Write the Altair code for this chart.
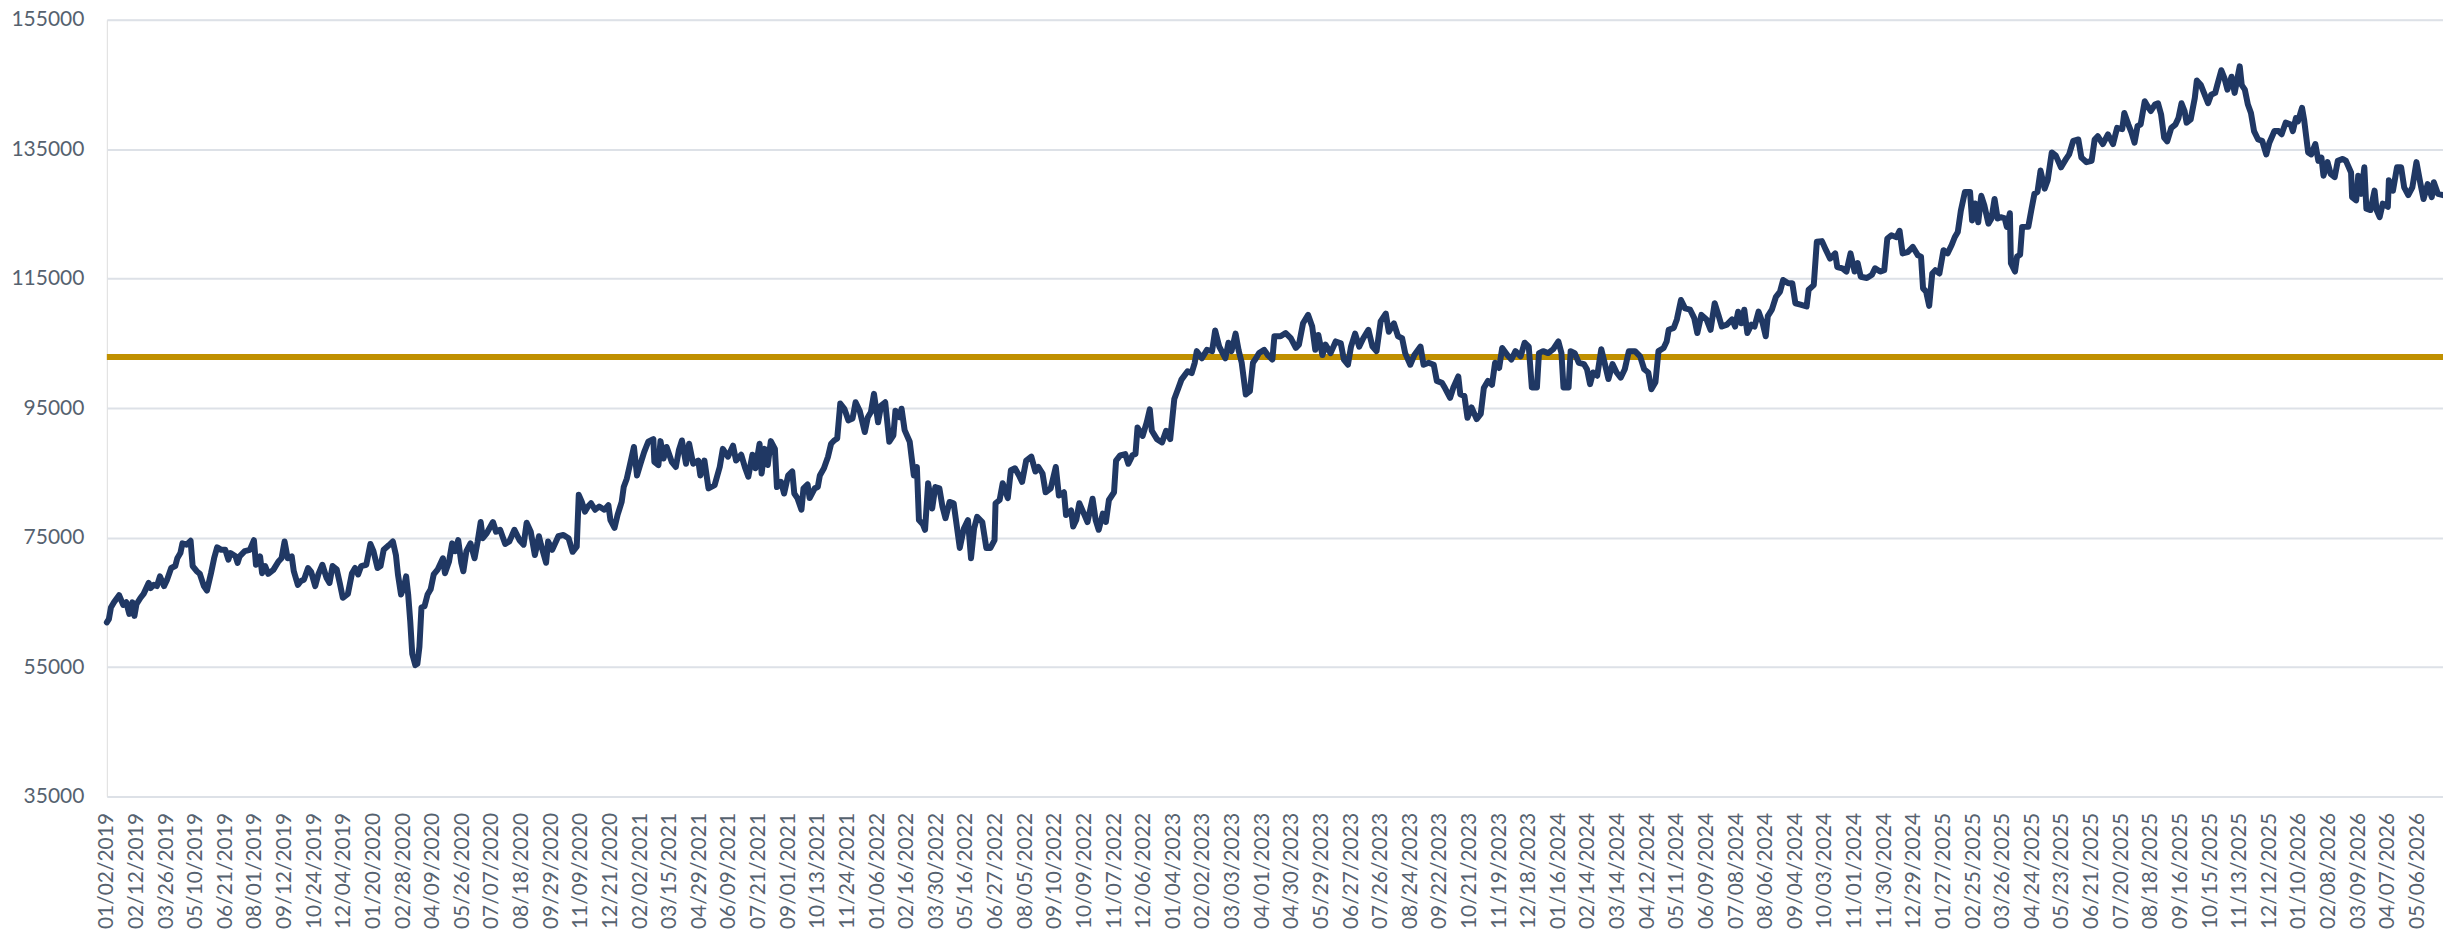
import altair as alt
import pandas as pd

# Category-axis tick labels (every 29th observation)
tick_labels = [
    "01/02/2019", "02/12/2019", "03/26/2019", "05/10/2019", "06/21/2019", "08/01/2019",
    "09/12/2019", "10/24/2019", "12/04/2019", "01/20/2020", "02/28/2020", "04/09/2020",
    "05/26/2020", "07/07/2020", "08/18/2020", "09/29/2020", "11/09/2020", "12/21/2020",
    "02/02/2021", "03/15/2021", "04/29/2021", "06/09/2021", "07/21/2021", "09/01/2021",
    "10/13/2021", "11/24/2021", "01/06/2022", "02/16/2022", "03/30/2022", "05/16/2022",
    "06/27/2022", "08/05/2022", "09/10/2022", "10/09/2022", "11/07/2022", "12/06/2022",
    "01/04/2023", "02/02/2023", "03/03/2023", "04/01/2023", "04/30/2023", "05/29/2023",
    "06/27/2023", "07/26/2023", "08/24/2023", "09/22/2023", "10/21/2023", "11/19/2023",
    "12/18/2023", "01/16/2024", "02/14/2024", "03/14/2024", "04/12/2024", "05/11/2024",
    "06/09/2024", "07/08/2024", "08/06/2024", "09/04/2024", "10/03/2024", "11/01/2024",
    "11/30/2024", "12/29/2024", "01/27/2025", "02/25/2025", "03/26/2025", "04/24/2025",
    "05/23/2025", "06/21/2025", "07/20/2025", "08/18/2025", "09/16/2025", "10/15/2025",
    "11/13/2025", "12/12/2025", "01/10/2026", "02/08/2026", "03/09/2026", "04/07/2026",
    "05/06/2026",
]
label_step = 29
last_obs = 2287

obs_2019_2020 = [
    0, 2, 4, 7, 12, 16, 19, 22, 25, 27, 29, 33, 36, 41, 43, 46, 49, 52, 56, 59,
    63, 67, 69, 72, 74, 78, 82, 84, 88, 91, 95, 98, 102, 105, 108, 112, 116, 119, 121, 126,
    128, 130, 135, 140, 144, 146, 150, 152, 155, 158, 163, 168, 171, 174, 177, 181, 183, 187, 190, 193,
    197, 200, 204, 207, 211, 215, 218, 221, 225, 228, 231, 236, 240, 243, 246, 249, 254, 258, 261, 265,
    268, 271, 276, 280, 283, 285, 288, 291, 293, 295, 297, 299, 302, 304, 306, 308, 311, 314, 317, 320,
    324, 329, 331, 335, 338, 341, 344, 347, 349, 352, 356, 360, 363, 366, 368, 372, 378, 381, 385, 390,
    394, 399, 404, 408, 411, 415, 419, 423, 425, 430, 432, 436, 442, 447, 452,
]
val_2019_2020 = [
    61900, 62400, 64200, 65000, 66100, 64600, 65000, 63200, 65000, 62900, 64700, 65700, 66300, 68000, 67200, 67700, 67500, 69000, 67500, 68500,
    70300, 70600, 71800, 72600, 74100, 73900, 74500, 70600, 69800, 69400, 67500, 66800, 69500, 71800, 73500, 73100, 73100, 71600, 72600, 72100,
    71100, 72100, 72900, 73100, 74600, 70800, 72100, 69500, 70600, 69400, 70000, 71300, 71800, 74400, 71800, 72100, 69800, 67700, 68300, 68500,
    70300, 69700, 67500, 69300, 70800, 68800, 68000, 70600, 70100, 68000, 65700, 66300, 69500, 70300, 69300, 70600, 70800, 74000, 72900, 70300,
    70600, 73100, 73800, 74400, 72300, 69300, 66200, 67500, 69000, 66200, 62100, 57000, 55300, 55500, 58100, 64200, 64400, 66200, 67000, 69300,
    70100, 71800, 69500, 71300, 74100, 72900, 74600, 71100, 69800, 72900, 74100, 71800, 74400, 77400, 74900, 75700, 77400, 75900, 76200, 74000,
    74400, 76200, 74600, 73900, 77300, 75900, 72300, 75200, 73900, 71100, 74400, 73100, 75200, 75400, 74900,
]

obs_2020_2022 = [
    456, 460, 462, 465, 468, 471, 474, 478, 482, 487, 491, 493, 497, 500, 504, 506, 509, 512, 516, 519,
    522, 526, 530, 535, 536, 540, 542, 545, 548, 553, 557, 560, 563, 567, 570, 574, 579, 581, 585, 589,
    595, 600, 603, 608, 613, 616, 621, 625, 628, 632, 635, 639, 641, 644, 647, 650, 654, 656, 660, 663,
    667, 671, 673, 676, 680, 682, 686, 688, 693, 696, 698, 702, 706, 709, 712, 715, 718, 722, 726, 730,
    733, 737, 742, 745, 748, 751, 755, 758, 762, 766, 770, 772, 776, 778, 781, 786, 788, 790, 793, 795,
    799, 801, 804, 808, 811, 815, 818, 821, 825, 829, 831, 835, 839, 843, 846, 849, 852, 857, 861, 865,
    869, 870, 874, 877, 882, 885, 889, 893, 896, 900, 905, 909, 912,
]
val_2020_2022 = [
    72800, 73600, 81600, 80500, 79000, 79800, 80300, 79300, 79800, 79300, 80000, 77700, 76500, 78500, 80500, 82800, 84100, 86200, 89000, 84600,
    86200, 88200, 89800, 90200, 86700, 86200, 89900, 87200, 89000, 86700, 85900, 88500, 90000, 86400, 89500, 86400, 86900, 84600, 86900, 82600,
    83100, 85900, 88700, 87500, 89200, 86900, 87800, 85700, 84400, 87800, 85700, 89500, 84900, 88700, 86200, 89900, 88700, 82800, 83600, 81800,
    84600, 85200, 81800, 81100, 79300, 82600, 83200, 81100, 82600, 82800, 84600, 85700, 87500, 89500, 90000, 90300, 95700, 94900, 93100, 93400,
    95900, 94600, 91300, 93600, 94400, 97200, 92800, 95400, 95900, 89800, 90800, 94600, 93600, 94900, 91600, 89800, 87200, 84600, 85900, 77700,
    77000, 76200, 83400, 79500, 82800, 82600, 79800, 78000, 80500, 80300, 78000, 73400, 76400, 77700, 71800, 76400, 78200, 77400, 73400, 73400,
    74600, 80300, 80800, 83400, 81100, 85400, 85700, 84600, 83600, 86900, 87500, 85200, 85900,
]

obs_2022_2024 = [
    916, 919, 924, 929, 932, 937, 939, 944, 946, 949, 952, 957, 960, 965, 968, 971, 975, 978, 981, 986,
    988, 992, 997, 1000, 1004, 1007, 1009, 1014, 1018, 1021, 1023, 1028, 1033, 1037, 1041, 1045, 1049, 1052, 1058, 1062,
    1065, 1067, 1072, 1077, 1082, 1085, 1089, 1095, 1098, 1101, 1105, 1108, 1111, 1115, 1119, 1122, 1125, 1128, 1133, 1137,
    1141, 1143, 1149, 1154, 1159, 1164, 1167, 1171, 1176, 1180, 1183, 1186, 1190, 1193, 1198, 1203, 1208, 1211, 1215, 1218,
    1222, 1226, 1230, 1235, 1239, 1243, 1247, 1252, 1255, 1260, 1264, 1268, 1271, 1276, 1280, 1286, 1289, 1294, 1299, 1302,
    1307, 1310, 1315, 1318, 1323, 1325, 1329, 1332, 1336, 1341, 1345, 1348, 1352, 1356, 1359, 1363, 1366, 1371, 1375, 1379,
    1384, 1388, 1392,
]
val_2022_2024 = [
    84900, 82000, 82600, 85900, 81500, 82000, 78500, 79200, 76700, 77700, 80300, 78500, 77400, 81000, 77700, 76200, 78700, 77400, 80800, 82000,
    86900, 87700, 87900, 86400, 87700, 87900, 92000, 90700, 92800, 94800, 91500, 90200, 89700, 91500, 90200, 96400, 98100, 99400, 100700, 100400,
    102000, 103800, 102700, 104000, 103800, 107000, 104500, 102700, 105100, 103800, 106500, 103900, 102000, 97100, 97600, 102000, 102700, 103500, 104000, 103100,
    102500, 106100, 106100, 106600, 105800, 104300, 104800, 108100, 109400, 107600, 104000, 106300, 103200, 104800, 103500, 105300, 105000, 102500, 101700, 104500,
    106500, 104500, 105800, 107100, 104500, 103800, 108400, 109600, 106800, 108100, 106100, 105800, 103500, 101700, 103200, 104500, 101700, 102000, 101700, 99200,
    98900, 98100, 96600, 98100, 99900, 97100, 96900, 93500, 95100, 93300, 94100, 98100, 99200, 98600, 102000, 101200, 104300, 103200, 102500, 103800,
    103000, 105100, 104500,
]

obs_2024_2025 = [
    1395, 1400, 1402, 1406, 1411, 1416, 1421, 1424, 1426, 1431, 1433, 1437, 1441, 1446, 1449, 1452, 1455, 1459, 1463, 1467,
    1470, 1474, 1478, 1482, 1486, 1490, 1496, 1501, 1505, 1509, 1512, 1516, 1519, 1524, 1527, 1529, 1534, 1537, 1541, 1545,
    1550, 1554, 1557, 1561, 1566, 1570, 1574, 1578, 1581, 1586, 1591, 1594, 1597, 1600, 1603, 1606, 1610, 1613, 1617, 1621,
    1624, 1626, 1630, 1634, 1638, 1641, 1646, 1650, 1653, 1658, 1664, 1666, 1671, 1674, 1679, 1683, 1687, 1692, 1694, 1699,
    1703, 1707, 1711, 1714, 1717, 1723, 1728, 1731, 1736, 1740, 1743, 1747, 1752, 1755, 1758, 1763, 1768, 1773, 1776, 1778,
    1781, 1784, 1787, 1790, 1794, 1798, 1802, 1806, 1809, 1812, 1815, 1819, 1824, 1826, 1829, 1832, 1835, 1838, 1842, 1845,
    1848, 1851, 1854,
]
val_2024_2025 = [
    98200, 98200, 103500, 103800, 103500, 104100, 105300, 103500, 98200, 98200, 103800, 103500, 102000, 101800, 101000, 98700, 100500, 100000, 104100, 101500,
    99500, 101800, 100500, 99700, 101000, 103800, 103800, 103000, 101000, 100500, 97900, 99000, 103800, 104300, 105300, 107100, 107400, 108700, 111700, 110400,
    110200, 108900, 106600, 109400, 108700, 107100, 111200, 109200, 107600, 107900, 108700, 107600, 109900, 108100, 110200, 106600, 107900, 107600, 109900, 108100,
    106100, 109200, 110200, 112200, 113000, 114800, 114300, 114300, 111200, 111000, 110700, 113300, 114000, 120700, 120800, 119400, 118100, 118900, 116800, 116600,
    116100, 118900, 116100, 117400, 115300, 115100, 115600, 116600, 116100, 116300, 121200, 121700, 121400, 122400, 118900, 119100, 119900, 118600, 118400, 113500,
    113000, 110800, 115800, 116300, 115800, 119400, 118900, 120200, 121400, 122200, 125500, 128400, 128400, 124000, 126600, 123700, 127800, 126300, 123500, 124300,
    127300, 124300, 124500,
]

obs_2025_2026 = [
    1858, 1860, 1863, 1864, 1868, 1870, 1873, 1875, 1881, 1884, 1887, 1890, 1893, 1897, 1900, 1904, 1908, 1913, 1918, 1921,
    1925, 1930, 1933, 1938, 1943, 1946, 1949, 1954, 1959, 1964, 1968, 1973, 1975, 1979, 1982, 1985, 1988, 1991, 1995, 1998,
    2001, 2005, 2008, 2011, 2014, 2017, 2021, 2025, 2028, 2031, 2034, 2036, 2040, 2044, 2046, 2050, 2053, 2057, 2060, 2064,
    2066, 2070, 2073, 2076, 2080, 2083, 2088, 2090, 2093, 2096, 2099, 2102, 2106, 2110, 2114, 2117, 2122, 2126, 2129, 2133,
    2138, 2140, 2143, 2145, 2149, 2151, 2155, 2158, 2162, 2165, 2168, 2170, 2174, 2177, 2181, 2184, 2189, 2192, 2197, 2198,
    2202, 2204, 2207, 2210, 2212, 2216, 2220, 2222, 2225, 2228, 2233, 2234, 2238, 2242, 2246, 2249, 2253, 2257, 2261, 2265,
    2268, 2272, 2276, 2278, 2282, 2287,
]
val_2025_2026 = [
    124300, 123000, 125100, 117400, 116100, 118400, 118700, 123000, 123000, 125600, 128100, 128400, 131700, 128900, 130200, 134500, 134000, 132200, 133500, 134200,
    136300, 136500, 133700, 133000, 133200, 136500, 137000, 135800, 137300, 135800, 138300, 138100, 140600, 138800, 137600, 136000, 138600, 138800, 142400, 141600,
    140900, 141900, 142100, 140400, 136800, 136200, 138300, 138800, 139800, 142100, 140900, 139100, 139600, 142900, 145600, 144900, 143700, 142100, 143400, 143700,
    144900, 147200, 146000, 144200, 146200, 143700, 147800, 144900, 144200, 141900, 140600, 137800, 136500, 136300, 134200, 136000, 137800, 137800, 137300, 139100,
    138800, 137800, 139800, 139300, 141400, 139600, 134500, 134200, 135800, 133200, 133700, 130900, 133000, 131200, 130700, 133200, 133500, 133200, 131400, 127600,
    127100, 130900, 128100, 132200, 125800, 125600, 128600, 125600, 124500, 126600, 126100, 130200, 128600, 132200, 132200, 129100, 127900, 129100, 133000, 129600,
    127300, 129600, 127600, 129900, 128100, 127900,
]

reference_level = 102900

obs = obs_2019_2020 + obs_2020_2022 + obs_2022_2024 + obs_2024_2025 + obs_2025_2026
vals = val_2019_2020 + val_2020_2022 + val_2022_2024 + val_2024_2025 + val_2025_2026
df = pd.DataFrame({"obs": obs, "value": vals})
ref_df = pd.DataFrame({"level": [reference_level]})

label_expr = "[" + ",".join(f"'{d}'" for d in tick_labels) + f"][round(datum.value / {label_step})]"
tick_positions = [i * label_step for i in range(len(tick_labels))]

FONT = "Lato"
LABEL_COLOR = "#56626f"

x_enc = alt.X(
    "obs:Q",
    scale=alt.Scale(domain=[0, last_obs], nice=False, zero=False),
    axis=alt.Axis(
        values=tick_positions,
        labelExpr=label_expr,
        labelAngle=270,
        labelPadding=16,
        labelFontSize=21,
        labelFont=FONT,
        labelColor=LABEL_COLOR,
        labelOverlap=False,
        ticks=False,
        domain=False,
        grid=False,
        title=None,
    ),
)
y_enc = alt.Y(
    "value:Q",
    scale=alt.Scale(domain=[35000, 155000], nice=False, zero=False),
    axis=alt.Axis(
        values=[35000, 55000, 75000, 95000, 115000, 135000, 155000],
        format="d",
        labelPadding=23,
        labelFontSize=21,
        labelFont=FONT,
        labelColor=LABEL_COLOR,
        ticks=False,
        domain=False,
        grid=True,
        gridColor="#dde1e7",
        gridWidth=2,
        title=None,
    ),
)

line = alt.Chart(df).mark_line(
    color="#203864", strokeWidth=6, strokeJoin="round", strokeCap="round"
).encode(x=x_enc, y=y_enc)

rule = alt.Chart(ref_df).mark_rule(color="#c09000", strokeWidth=6).encode(
    y=alt.Y("level:Q")
)

chart = (
    alt.layer(rule, line)
    .properties(
        width=2340,
        height=778,
        autosize=alt.AutoSizeParams(type="none"),
        padding={"left": 99, "top": 11, "right": 0, "bottom": 140},
    )
    .configure_view(stroke=None)
    .configure(background="white")
)

chart.save("out.html", embed_options={"renderer": "svg", "actions": False})
